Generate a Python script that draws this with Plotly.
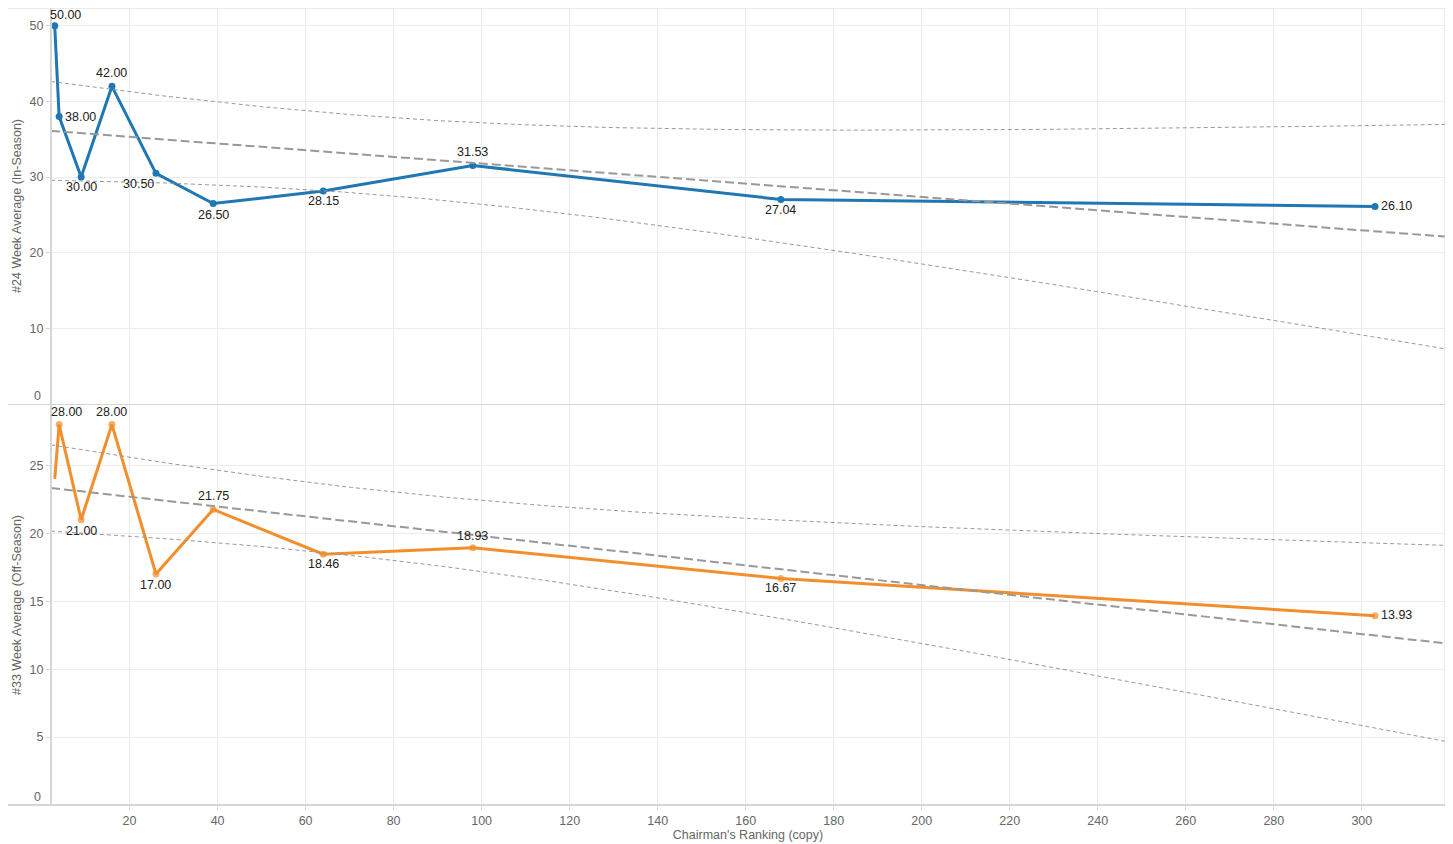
import numpy as np
import plotly.graph_objects as go

# ---------------- data ----------------
rank_in = [3, 4, 9, 16, 26, 39, 64, 98, 168, 303]
avg_in = [50.00, 38.00, 30.00, 42.00, 30.50, 26.50, 28.15, 31.53, 27.04, 26.10]

rank_off = [3, 4, 9, 16, 26, 39, 64, 98, 168, 303]
avg_off = [24.00, 28.00, 21.00, 28.00, 17.00, 21.75, 18.46, 18.93, 16.67, 13.93]
off_marker_visible = [False, True, True, True, True, True, True, True, True, True]

x_ticks = [20, 40, 60, 80, 100, 120, 140, 160, 180, 200, 220, 240, 260, 280, 300]
y_ticks_in = [10, 20, 30, 40, 50]
y_ticks_off = [5, 10, 15, 20, 25]

# label offsets in pixels (dx, dy down-positive, anchor)
lab_in = [(11, -11, "center"), (4, 0, "left"), (0, 10, "center"), (0, -13, "center"),
          (-17, 11, "center"), (0, 11, "center"), (0, 10, "center"), (0, -14, "center"),
          (0, 11, "center"), (4, -1, "left")]
lab_off = [None, (7, -13, "center"), (0, 11, "center"), (0, -13, "center"),
           (0, 11, "center"), (0, -13, "center"), (0, 10, "center"), (0, -12, "center"),
           (0, 10, "center"), (4, -1, "left")]

BLUE = "#1f77b4"
ORANGE = "#f28e2b"
GRID = "#ececec"
BORDER = "#d6d6d6"
FONT = "Arial, Liberation Sans, sans-serif"
T95 = 2.306  # Student t, 95%, df = n - 2 = 8

X_RANGE = [2.15, 318.9]


def trend(xs, ys, grid):
    xs = np.asarray(xs, float)
    ys = np.asarray(ys, float)
    n = len(xs)
    b, a = np.polyfit(xs, ys, 1)
    fit = a + b * grid
    resid = ys - (a + b * xs)
    s = np.sqrt(np.sum(resid ** 2) / (n - 2))
    sxx = np.sum((xs - xs.mean()) ** 2)
    se = s * np.sqrt(1.0 / n + (grid - xs.mean()) ** 2 / sxx)
    return fit, fit - T95 * se, fit + T95 * se


grid = np.linspace(X_RANGE[0], X_RANGE[1], 400)

fig = go.Figure()

# data lines
fig.add_trace(go.Scatter(
    x=rank_in, y=avg_in, mode="lines+markers", xaxis="x", yaxis="y",
    line=dict(color=BLUE, width=3), marker=dict(color=BLUE, size=7),
    hoverinfo="x+y", showlegend=False))
fig.add_trace(go.Scatter(
    x=rank_off, y=avg_off, mode="lines+markers", xaxis="x2", yaxis="y2",
    line=dict(color=ORANGE, width=3),
    marker=dict(color=ORANGE, size=[7 if v else 0 for v in off_marker_visible],
                line=dict(width=0)),
    hoverinfo="x+y", showlegend=False))

# trend lines with 95% confidence bands
for xs, ys, xa, ya in [(rank_in, avg_in, "x", "y"), (rank_off, avg_off, "x2", "y2")]:
    fit, lo, hi = trend(xs, ys, grid)
    for yy, w, d in [(fit, 2, "9px,4px"), (lo, 1, "4px,3px"), (hi, 1, "4px,3px")]:
        fig.add_trace(go.Scatter(
            x=grid, y=yy, mode="lines", xaxis=xa, yaxis=ya,
            line=dict(color="#999999", width=w, dash=d),
            hoverinfo="skip", showlegend=False))

annotations = []
for xs, ys, labs, xa, ya in [(rank_in, avg_in, lab_in, "x", "y"),
                             (rank_off, avg_off, lab_off, "x2", "y2")]:
    for xv, yv, lab in zip(xs, ys, labs):
        if lab is None:
            continue
        dx, dy, anc = lab
        annotations.append(dict(
            x=xv, y=yv, xref=xa, yref=ya, text=f"{yv:.2f}", showarrow=False,
            xanchor=anc, yanchor="middle", xshift=dx, yshift=-dy,
            font=dict(family=FONT, size=12.5, color="#222222")))

# "0" tick labels lifted above the axis bottom, as in the reference
for ya in ["y", "y2"]:
    annotations.append(dict(
        x=0, y=0, xref="paper", yref=ya, text="0", showarrow=False,
        xanchor="right", yanchor="middle", xshift=-8, yshift=8,
        font=dict(family=FONT, size=12.5, color="#666666")))

TOP_DOM = [0.5032, 1.0]
BOT_DOM = [0.0, 0.5019]

# panel borders
shapes = []
for yp in [0.0, 0.5025, 1.0]:
    shapes.append(dict(type="line", xref="paper", yref="paper",
                       x0=-0.0313, x1=1.0, y0=yp, y1=yp,
                       line=dict(color=BORDER, width=2 if yp == 0.0 else 1)))
for xp in [0.0, 1.0]:
    shapes.append(dict(type="line", xref="paper", yref="paper",
                       x0=xp, x1=xp, y0=0, y1=1,
                       line=dict(color=BORDER, width=2 if xp == 0 else 1)))

tickfont = dict(family=FONT, size=12.5, color="#666666")
titlefont = dict(family=FONT, size=12.5, color="#666666")

common_x = dict(range=X_RANGE, tickvals=x_ticks, showgrid=True, gridcolor=GRID,
                gridwidth=1, zeroline=False, showline=False, ticks="outside",
                ticklen=4, tickcolor=BORDER, tickfont=tickfont, automargin=False)

common_y = dict(showgrid=True, gridcolor=GRID, zeroline=False, ticks="outside",
                ticklen=4, tickcolor=BORDER, tickfont=tickfont, automargin=False)

fig.update_layout(
    width=1445, height=836,
    margin=dict(l=42.7, r=7.5, t=0, b=39),
    paper_bgcolor="white", plot_bgcolor="white",
    font=dict(family=FONT),
    xaxis=dict(common_x, domain=[0, 1], anchor="y", showticklabels=False, ticks=""),
    xaxis2=dict(common_x, domain=[0, 1], anchor="y2", matches="x",
                title=dict(text="Chairman's Ranking (copy)", font=titlefont, standoff=2)),
    yaxis=dict(common_y, domain=TOP_DOM, anchor="x", range=[0, 52.36],
               tickvals=y_ticks_in,
               title=dict(text="#24 Week Average (In-Season)", font=titlefont, standoff=5)),
    yaxis2=dict(common_y, domain=BOT_DOM, anchor="x2", range=[0, 29.44],
                tickvals=y_ticks_off,
                title=dict(text="#33 Week Average (Off-Season)", font=titlefont, standoff=5)),
    annotations=annotations,
    shapes=shapes,
    hovermode="closest",
)

fig.write_html("out.html")
